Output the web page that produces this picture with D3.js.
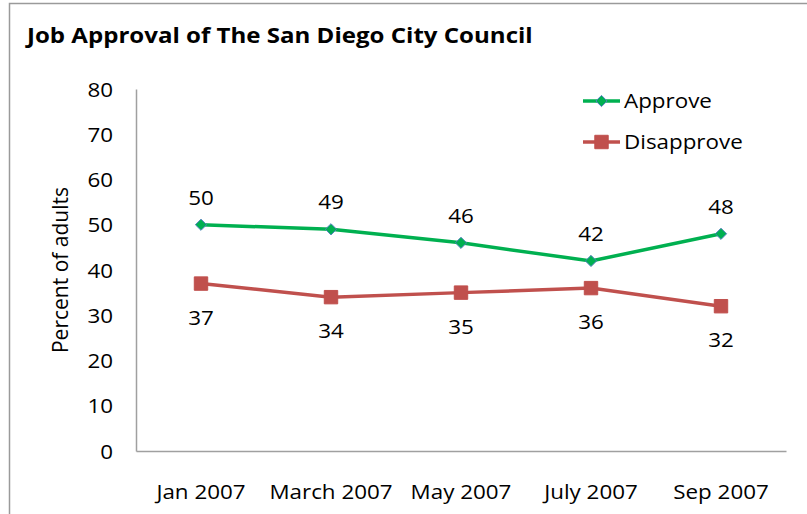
<!DOCTYPE html>
<html>
<head>
<meta charset="utf-8">
<script src="https://cdn.jsdelivr.net/npm/d3@7"></script>
<style>
  body { margin: 0; background: #fff; }
  svg { display: block; font-family: 'Open Sans', Lato, sans-serif; }
</style>
</head>
<body>
<script>
const months = ['Jan 2007', 'March 2007', 'May 2007', 'July 2007', 'Sep 2007']
const approve = [50, 49, 46, 42, 48]
const disapprove = [37, 34, 35, 36, 32]
const yTicks = [0, 10, 20, 30, 40, 50, 60, 70, 80]

const W = 807, H = 514
const stretch = 1.12  // text in the source looks wider than Open Sans
const svg = d3.select('body').append('svg').attr('width', W).attr('height', H)

// widen a text element horizontally around its own x
function widen(sel) {
  sel.each(function () {
    const t = d3.select(this)
    const bx = +t.attr('x') || 0
    const prev = t.attr('transform') || ''
    t.attr('transform', `${prev} translate(${bx},0) scale(${stretch},1) translate(${-bx},0)`)
  })
}

// outer frame
svg.append('rect')
  .attr('x', 9.5).attr('y', 3.5).attr('width', W + 10).attr('height', H + 10)
  .attr('fill', 'none').attr('stroke', '#9a9a9a').attr('stroke-width', 1.5)

svg.append('text')
  .attr('x', 27).attr('y', 43)
  .attr('font-size', 21.5).attr('font-weight', 'bold')
  .text('Job Approval of The San Diego City Council')
  .call(widen)

const x = d3.scaleBand().domain(months).range([136, 786])
const y = d3.scaleLinear().domain([0, 80]).range([451, 89])
const cx = d => x(d) + x.bandwidth() / 2

// axes
const yAxis = svg.append('g').attr('transform', 'translate(136,0)')
  .call(d3.axisLeft(y).tickValues(yTicks).tickSize(0).tickPadding(23))
  .attr('font-family', null).attr('font-size', null)
yAxis.select('.domain').attr('stroke', '#a0a0a0').attr('stroke-width', 1.5)
yAxis.selectAll('text').attr('font-size', 20).attr('fill', '#000').attr('dy', '0.36em')
  .each(function () {
    d3.select(this).attr('transform', `scale(${stretch},1)`).attr('x', -23 / stretch)
  })

const xAxis = svg.append('g').attr('transform', 'translate(0,451)')
  .call(d3.axisBottom(x).tickSize(0).tickPadding(34))
  .attr('font-family', null).attr('font-size', null)
xAxis.select('.domain').attr('stroke', '#a0a0a0').attr('stroke-width', 1.5)
xAxis.selectAll('text').attr('font-size', 20).attr('fill', '#000')
  .attr('transform', `scale(${stretch},1)`)

svg.append('text')
  .attr('transform', 'translate(68,270) rotate(-90)')
  .attr('text-anchor', 'middle').attr('font-size', 21)
  .text('Percent of adults')

const line = d3.line().x((d, i) => cx(months[i])).y(d => y(d))

const series = [
  { name: 'Approve', values: approve, color: '#00b050', marker: 'diamond', above: true },
  { name: 'Disapprove', values: disapprove, color: '#c0504d', marker: 'square', above: false }
]
const markerPath = s => s.marker == 'diamond'
  ? d3.symbol(d3.symbolDiamond2, 80)()
  : d3.symbol(d3.symbolSquare, 180)()

series.forEach(s => {
  svg.append('path').datum(s.values)
    .attr('d', line).attr('fill', 'none')
    .attr('stroke', s.color).attr('stroke-width', 3.5)
  svg.append('g').selectAll('path').data(s.values).enter().append('path')
    .attr('transform', (d, i) => `translate(${cx(months[i])},${y(d)})`)
    .attr('d', markerPath(s))
    .attr('fill', s.color)
    .attr('stroke', s.marker == 'diamond' ? '#4f81bd' : s.color)
    .attr('stroke-width', 1)
  svg.append('g').selectAll('text').data(s.values).enter().append('text')
    .attr('x', (d, i) => cx(months[i]))
    .attr('y', d => s.above ? y(d) - 20 : y(d) + 41)
    .attr('text-anchor', 'middle').attr('font-size', 20)
    .text(d => d)
    .call(widen)
})

// legend
const legend = svg.append('g')
series.forEach((s, i) => {
  const ly = 101 + i * 41
  legend.append('line').attr('x1', 583).attr('x2', 620).attr('y1', ly).attr('y2', ly)
    .attr('stroke', s.color).attr('stroke-width', 3.5)
  legend.append('path')
    .attr('transform', `translate(601.5,${ly})`)
    .attr('d', markerPath(s))
    .attr('fill', s.color)
    .attr('stroke', s.marker == 'diamond' ? '#4f81bd' : s.color)
  legend.append('text').attr('x', 624).attr('y', ly + 7)
    .attr('font-size', 20).text(s.name)
    .call(widen)
})
</script>
</body>
</html>
